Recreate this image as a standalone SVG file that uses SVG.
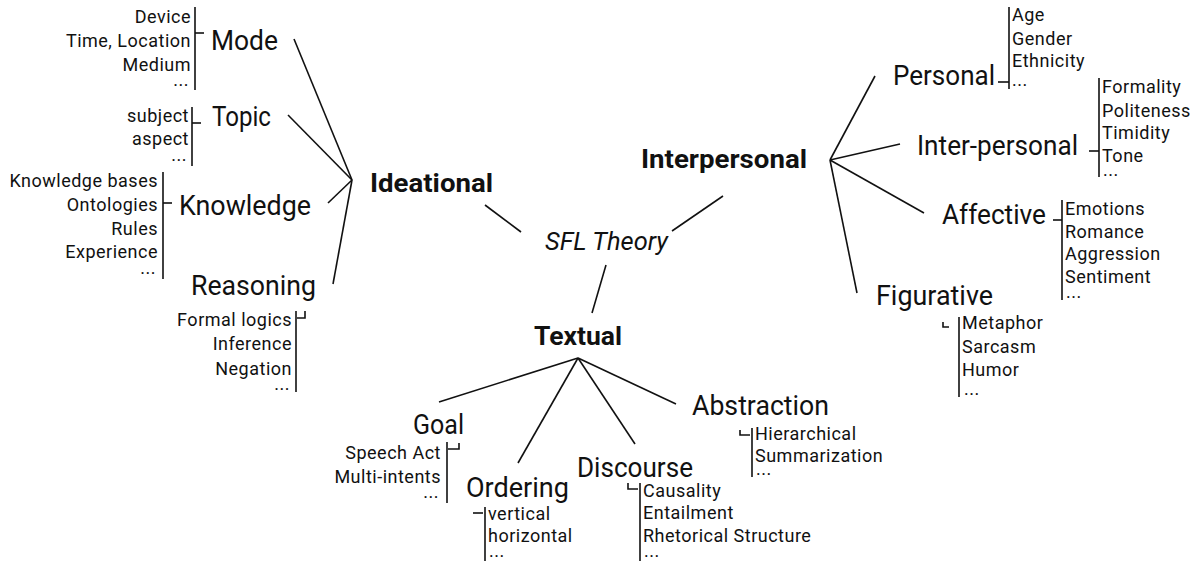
<svg xmlns="http://www.w3.org/2000/svg" width="1198" height="561" viewBox="0 0 1198 561">
<style>
text{font-family:Roboto,"Liberation Sans",sans-serif;fill:#111}
.big{font-size:27px}
.bold{font-size:25px;font-weight:bold}
.it{font-size:26px;font-style:italic}
.sm{font-size:18px;letter-spacing:0.5px}
.r{text-anchor:end}
line,path{stroke:#111;stroke-width:1.6;fill:none}
</style>
<rect width="1198" height="561" fill="#fff"/>
<g id="connectors">
<line x1="294" y1="39" x2="352" y2="180"/>
<line x1="288" y1="115" x2="352" y2="180"/>
<line x1="328" y1="203" x2="352" y2="180"/>
<line x1="333" y1="284" x2="352" y2="180"/>
<line x1="485" y1="205" x2="521" y2="232"/>
<line x1="672" y1="231" x2="723" y2="196"/>
<line x1="606" y1="265" x2="592" y2="313"/>
<line x1="578" y1="358" x2="439" y2="402"/>
<line x1="578" y1="358" x2="518" y2="463"/>
<line x1="578" y1="358" x2="635" y2="444"/>
<line x1="578" y1="358" x2="676" y2="404"/>
<line x1="830" y1="160" x2="875" y2="76"/>
<line x1="830" y1="160" x2="900" y2="144"/>
<line x1="830" y1="160" x2="924" y2="213"/>
<line x1="830" y1="160" x2="857" y2="293"/>
</g>
<g id="sfl-theory"><text class="it" x="545" y="250" textLength="123" lengthAdjust="spacingAndGlyphs">SFL Theory</text></g>
<g id="ideational"><text class="bold" x="370" y="192" textLength="123" lengthAdjust="spacingAndGlyphs">Ideational</text></g>
<g id="interpersonal"><text class="bold" x="641" y="168" textLength="166" lengthAdjust="spacingAndGlyphs">Interpersonal</text></g>
<g id="textual"><text class="bold" x="534" y="345" textLength="88" lengthAdjust="spacingAndGlyphs">Textual</text></g>

<g id="mode">
<text class="big" x="211" y="50" textLength="67" lengthAdjust="spacingAndGlyphs">Mode</text>
<line x1="195" y1="7" x2="195" y2="90"/><line x1="195" y1="33" x2="204" y2="33"/>
<text class="sm r" x="191" y="23">Device</text>
<text class="sm r" x="191" y="47">Time, Location</text>
<text class="sm r" x="191" y="71">Medium</text>
<text class="sm r" x="189" y="86">...</text>
</g>
<g id="topic">
<text class="big" x="212" y="126" textLength="59" lengthAdjust="spacingAndGlyphs">Topic</text>
<line x1="192" y1="107" x2="192" y2="166"/><line x1="192" y1="123" x2="201" y2="123"/>
<text class="sm r" x="189" y="122">subject</text>
<text class="sm r" x="189" y="145">aspect</text>
<text class="sm r" x="187" y="161">...</text>
</g>
<g id="knowledge">
<text class="big" x="179" y="215" textLength="132" lengthAdjust="spacingAndGlyphs">Knowledge</text>
<line x1="163" y1="172" x2="163" y2="279"/><line x1="163" y1="203" x2="172" y2="203"/>
<text class="sm r" x="158" y="187">Knowledge bases</text>
<text class="sm r" x="158" y="211">Ontologies</text>
<text class="sm r" x="158" y="235">Rules</text>
<text class="sm r" x="158" y="258">Experience</text>
<text class="sm r" x="156" y="274">...</text>
</g>
<g id="reasoning">
<text class="big" x="191" y="295" textLength="125" lengthAdjust="spacingAndGlyphs">Reasoning</text>
<line x1="296" y1="311" x2="296" y2="392"/><path d="M297 318H305V311"/>
<text class="sm r" x="292" y="326">Formal logics</text>
<text class="sm r" x="292" y="350">Inference</text>
<text class="sm r" x="292" y="375">Negation</text>
<text class="sm r" x="290" y="390">...</text>
</g>
<g id="goal">
<text class="big" x="413" y="434" textLength="51" lengthAdjust="spacingAndGlyphs">Goal</text>
<line x1="447" y1="442" x2="447" y2="503"/><path d="M448 449H459V443"/>
<text class="sm r" x="441" y="459">Speech Act</text>
<text class="sm r" x="441" y="483">Multi-intents</text>
<text class="sm r" x="439" y="498">...</text>
</g>
<g id="ordering">
<text class="big" x="466" y="497" textLength="103" lengthAdjust="spacingAndGlyphs">Ordering</text>
<line x1="485" y1="507" x2="485" y2="561"/><line x1="473" y1="513" x2="483" y2="513"/>
<text class="sm" x="488" y="520">vertical</text>
<text class="sm" x="488" y="542">horizontal</text>
<text class="sm" x="489" y="557">...</text>
</g>
<g id="discourse">
<text class="big" x="577" y="477" textLength="116" lengthAdjust="spacingAndGlyphs">Discourse</text>
<line x1="640" y1="483" x2="640" y2="561"/><path d="M628 483V489H638"/>
<text class="sm" x="643" y="497">Causality</text>
<text class="sm" x="643" y="519">Entailment</text>
<text class="sm" x="643" y="542">Rhetorical Structure</text>
<text class="sm" x="644" y="557">...</text>
</g>
<g id="abstraction">
<text class="big" x="692" y="415" textLength="137" lengthAdjust="spacingAndGlyphs">Abstraction</text>
<line x1="752" y1="428" x2="752" y2="477"/><path d="M740 430V435H750"/>
<text class="sm" x="755" y="440">Hierarchical</text>
<text class="sm" x="755" y="462">Summarization</text>
<text class="sm" x="756" y="475">...</text>
</g>
<g id="personal">
<text class="big" x="893" y="85" textLength="102" lengthAdjust="spacingAndGlyphs">Personal</text>
<line x1="1009" y1="7" x2="1009" y2="89"/><line x1="998" y1="82" x2="1009" y2="82"/>
<text class="sm" x="1012" y="21">Age</text>
<text class="sm" x="1012" y="45">Gender</text>
<text class="sm" x="1012" y="67">Ethnicity</text>
<text class="sm" x="1012" y="86">...</text>
</g>
<g id="inter-personal">
<text class="big" x="917" y="155" textLength="161" lengthAdjust="spacingAndGlyphs">Inter-personal</text>
<line x1="1099" y1="78" x2="1099" y2="177"/><line x1="1089" y1="151" x2="1099" y2="151"/>
<text class="sm" x="1102" y="93">Formality</text>
<text class="sm" x="1102" y="117">Politeness</text>
<text class="sm" x="1102" y="139">Timidity</text>
<text class="sm" x="1102" y="162">Tone</text>
<text class="sm" x="1103" y="176">...</text>
</g>
<g id="affective">
<text class="big" x="942" y="224" textLength="104" lengthAdjust="spacingAndGlyphs">Affective</text>
<line x1="1062" y1="200" x2="1062" y2="300"/><line x1="1053" y1="220" x2="1062" y2="220"/>
<text class="sm" x="1065" y="215">Emotions</text>
<text class="sm" x="1065" y="238">Romance</text>
<text class="sm" x="1065" y="260">Aggression</text>
<text class="sm" x="1065" y="283">Sentiment</text>
<text class="sm" x="1066" y="298">...</text>
</g>
<g id="figurative">
<text class="big" x="876" y="305" textLength="117" lengthAdjust="spacingAndGlyphs">Figurative</text>
<line x1="959" y1="317" x2="959" y2="397"/><path d="M943 322V327H949"/>
<text class="sm" x="962" y="329">Metaphor</text>
<text class="sm" x="962" y="353">Sarcasm</text>
<text class="sm" x="962" y="376">Humor</text>
<text class="sm" x="964" y="395">...</text>
</g>
</svg>
